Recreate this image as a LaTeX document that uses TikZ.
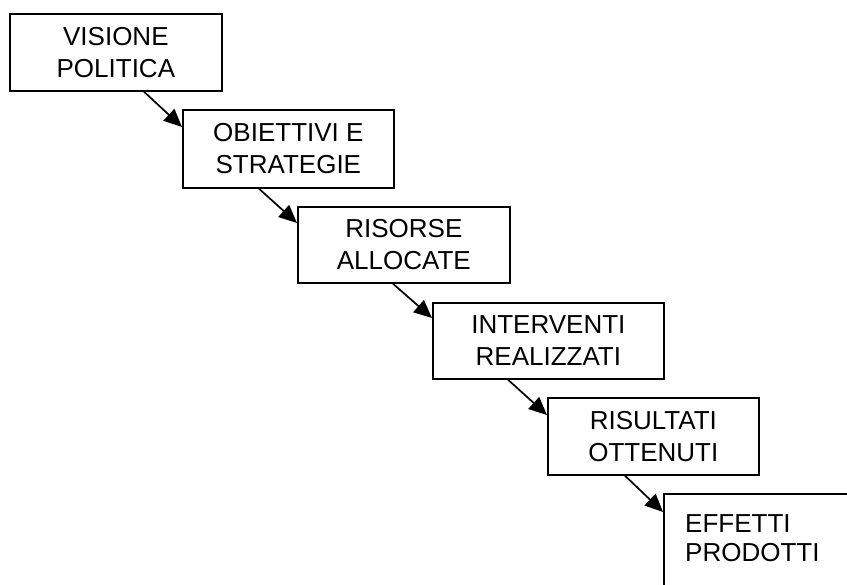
\documentclass[tikz,border=0pt]{standalone}
\usepackage{fontspec}
\setmainfont{Liberation Sans}
\usetikzlibrary{arrows.meta}
\tikzset{
  box/.style={draw=black, line width=1.7pt, fill=white, anchor=north west, align=center,
    inner sep=0pt, font=\fontsize{26}{32}\selectfont,
    execute at begin node={\rule{0pt}{31pt}}},
  plainbox/.style={draw=black, line width=1.7pt, fill=white, anchor=north west, inner sep=0pt},
  txt/.style={anchor=north west, align=left, inner sep=0pt, font=\fontsize{26}{29}\selectfont},
  arr/.style={line width=1.7pt, -{Triangle[length=18pt,width=16pt]}}
}
\begin{document}
\begin{tikzpicture}[x=1pt,y=-1pt]
\path[use as bounding box] (0,0) rectangle (847,585);
\clip (0,0) rectangle (847,585);
\node[box, minimum width=212pt, minimum height=77pt] (b1) at (9,13) {VISIONE\\POLITICA};
\node[box, minimum width=211pt, minimum height=78pt] (b2) at (182,109) {OBIETTIVI E\\STRATEGIE};
\node[box, minimum width=212pt, minimum height=76pt] (b3) at (297,206) {RISORSE\\ALLOCATE};
\node[box, minimum width=231pt, minimum height=76pt] (b4) at (432,302) {INTERVENTI\\REALIZZATI};
\node[box, minimum width=211pt, minimum height=77pt] (b5) at (547,397) {RISULTATI\\OTTENUTI};
\node[plainbox, minimum width=200pt, minimum height=130pt] (b6) at (663,493) {};
\node[txt] (t6) at (685,514) {EFFETTI\\PRODOTTI};
\draw[arr] ([xshift=135pt]b1.south west) -- ([yshift=-18pt]b2.north west);
\draw[arr] ([xshift=77pt]b2.south west) -- ([yshift=-17pt]b3.north west);
\draw[arr] ([xshift=96pt]b3.south west) -- ([yshift=-16pt]b4.north west);
\draw[arr] ([xshift=76pt]b4.south west) -- ([yshift=-18pt]b5.north west);
\draw[arr] ([xshift=78pt]b5.south west) -- ([yshift=-19pt]b6.north west);
\end{tikzpicture}
\end{document}
